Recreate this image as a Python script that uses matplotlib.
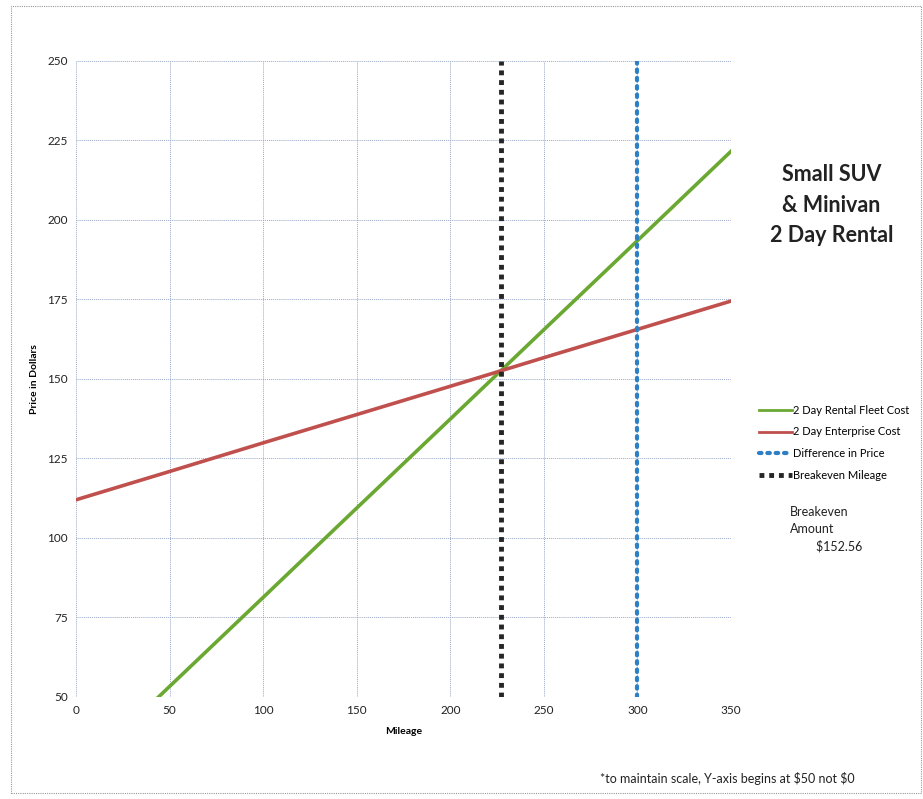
import matplotlib.pyplot as plt
from matplotlib.patches import Rectangle

plt.rcParams["font.family"] = ["Lato", "DejaVu Sans"]

# cost of each rental option by miles driven
mileage = [0, 50, 100, 150, 200, 250, 300, 350]
fleet_cost = [25.2, 53.3, 81.3, 109.4, 137.4, 165.5, 193.5, 221.6]
enterprise_cost = [112.0, 120.9, 129.9, 138.8, 147.7, 156.7, 165.6, 174.5]

breakeven_mileage = 227
breakeven_amount = 152.56
comparison_mileage = 300

x_ticks = [0, 50, 100, 150, 200, 250, 300, 350]
y_ticks = [50, 75, 100, 125, 150, 175, 200, 225, 250]

fig = plt.figure(figsize=(9.23, 7.99), dpi=100)
ax = fig.add_axes([0.0823, 0.1277, 0.7097, 0.796])

grid_color = "#9aaac8"
for x in x_ticks:
    ax.axvline(x, color=grid_color, linewidth=0.7, linestyle=(0, (1, 1)), zorder=0)
for y in y_ticks:
    ax.axhline(y, color=grid_color, linewidth=0.7, linestyle=(0, (1, 1)), zorder=0)

ax.plot(mileage, fleet_cost, color="#6aa832", linewidth=2.6,
        label="2 Day Rental Fleet Cost", zorder=3)
ax.plot(mileage, enterprise_cost, color="#c0504d", linewidth=2.6,
        label="2 Day Enterprise Cost", zorder=3)
ax.plot([comparison_mileage, comparison_mileage], [50, 250], color="#2e7fc4",
        linewidth=3, linestyle=(0, (0.6, 1.4)), dash_capstyle="round",
        label="Difference in Price", zorder=4)
ax.plot([breakeven_mileage, breakeven_mileage], [50, 250], color="#262626",
        linewidth=3.5, linestyle=(0, (1, 1)),
        label="Breakeven Mileage", zorder=4)

ax.set_xlim(0, 350)
ax.set_ylim(50, 250)
ax.set_xticks(x_ticks)
ax.set_yticks(y_ticks)
ax.tick_params(length=0, labelsize=8.5, pad=6, colors="#222222")
for side in ax.spines.values():
    side.set_visible(False)

ax.set_xlabel("Mileage", fontsize=7.5, fontweight="bold", labelpad=8)
ax.set_ylabel("Price in Dollars", fontsize=7.5, fontweight="bold", labelpad=6)

leg = ax.legend(loc="upper left", bbox_to_anchor=(1.028, 0.475), frameon=False,
                fontsize=8, handlelength=2.9, handletextpad=0.15,
                labelspacing=0.95)
for line in leg.get_lines()[:2]:
    line.set_linewidth(2.0)

fig.text(0.901, 0.743, "Small SUV\n& Minivan\n2 Day Rental", ha="center",
         va="center", fontsize=15.5, fontweight="bold", linespacing=1.55,
         color="#222222")
fig.text(0.856, 0.338, f"Breakeven\nAmount\n        \\${breakeven_amount:.2f}",
         ha="left", va="center", fontsize=9, linespacing=1.5, color="#222222")
fig.text(0.650, 0.026, r"*to maintain scale, Y-axis begins at \$50 not \$0",
         ha="left", va="center", fontsize=9, color="#222222")

fig.add_artist(Rectangle((0.012, 0.007), 0.986, 0.985, transform=fig.transFigure,
                         fill=False, edgecolor="#999999", linewidth=0.8,
                         linestyle=(0, (1, 1))))

fig.savefig("out.png", dpi=100)
